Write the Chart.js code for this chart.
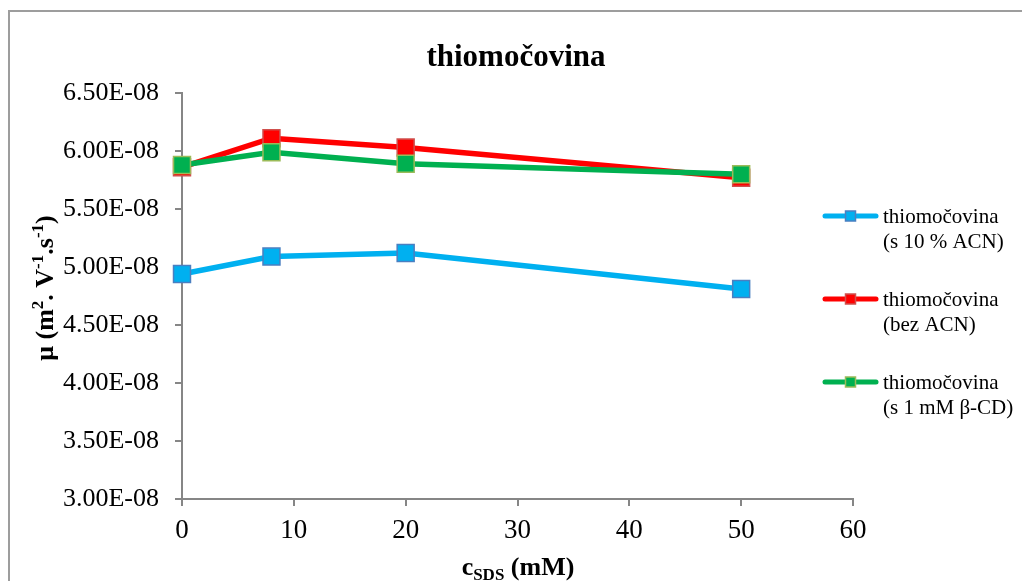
<!DOCTYPE html>
<html>
<head>
<meta charset="utf-8">
<script src="https://cdn.jsdelivr.net/npm/chart.js@4/dist/chart.umd.min.js"></script>
<style>
  html, body { margin: 0; padding: 0; background: #ffffff; overflow: hidden; }
  #wrap { position: relative; width: 1022px; height: 581px; }
  #frame { position: absolute; left: 8px; top: 10px; width: 3000px; height: 3000px;
           border-left: 2px solid #9d9d9d; border-top: 2px solid #9d9d9d; }
  canvas { position: absolute; left: 0; top: 0; }
</style>
</head>
<body>
<div id="wrap">
  <div id="frame"></div>
  <canvas id="c" width="1022" height="581"></canvas>
</div>
<script>
// ---- data ----
const chartTitle = 'thiomočovina';
const cSDS = [0, 8, 20, 50];                              // c_SDS (mM)
const muACN10 = [4.94e-8, 5.09e-8, 5.12e-8, 4.81e-8];     // s 10 % ACN
const muNoACN = [5.86e-8, 6.11e-8, 6.03e-8, 5.77e-8];     // bez ACN
const muBetaCD = [5.88e-8, 5.99e-8, 5.89e-8, 5.80e-8];    // s 1 mM β-CD
const seriesLine1 = ['thiomočovina', 'thiomočovina', 'thiomočovina'];
const seriesLine2 = ['(s 10 % ACN)', '(bez ACN)', '(s 1 mM β-CD)'];
const yTickValues = [3.0e-8, 3.5e-8, 4.0e-8, 4.5e-8, 5.0e-8, 5.5e-8, 6.0e-8, 6.5e-8];
const xTickValues = [0, 10, 20, 30, 40, 50, 60];

const FONT = "'Liberation Serif', 'Times New Roman', serif";
const colors = [
  { line: '#00b0f0', fill: '#00b0f0', border: '#4a7fc1' },
  { line: '#ff0000', fill: '#ff0000', border: '#d0504d' },
  { line: '#00b050', fill: '#00b050', border: '#9bbb59' }
];
const seriesValues = [muACN10, muNoACN, muBetaCD];

function fmtE(v) {
  const s = v.toExponential(2); // e.g. 6.50e-8
  const m = s.match(/^(-?[\d.]+)e([+-])(\d+)$/);
  if (!m) return s;
  const exp = m[3].length < 2 ? '0' + m[3] : m[3];
  return m[1] + 'E' + m[2] + exp;
}

const datasets = seriesValues.map((vals, i) => ({
  label: seriesLine1[i] + ' ' + seriesLine2[i],
  data: cSDS.map((x, k) => ({ x: x, y: vals[k] })),
  borderColor: colors[i].line,
  backgroundColor: colors[i].fill,
  borderWidth: 5.5,
  pointStyle: 'rect',
  pointRadius: 12,
  pointHoverRadius: 12,
  pointBackgroundColor: colors[i].fill,
  pointBorderColor: colors[i].border,
  pointBorderWidth: 1.5,
  tension: 0,
  clip: false,
  order: 2 - i
}));

// draw runs of text with optional super/subscript
function drawRuns(ctx, runs, x, y, align) {
  let total = 0;
  runs.forEach(r => { ctx.font = r.font; r.w = ctx.measureText(r.t).width; total += r.w; });
  let cx = align === 'center' ? x - total / 2 : x;
  runs.forEach(r => {
    ctx.font = r.font;
    ctx.fillText(r.t, cx, y + (r.dy || 0));
    cx += r.w;
  });
}

const decor = {
  id: 'decor',
  afterDraw(chart) {
    const ctx = chart.ctx;
    ctx.save();
    ctx.fillStyle = '#000000';
    ctx.textBaseline = 'alphabetic';
    ctx.textAlign = 'left';
    // title
    drawRuns(ctx, [{ t: chartTitle, font: 'bold 31px ' + FONT }], 516, 66, 'center');
    // x-axis title
    const bx = 'bold 26px ' + FONT, bs = 'bold 17px ' + FONT;
    drawRuns(ctx, [
      { t: 'c', font: bx },
      { t: 'SDS', font: bs, dy: 5 },
      { t: ' (mM)', font: bx }
    ], 518, 575, 'center');
    // y-axis title
    ctx.save();
    ctx.translate(53, 288);
    ctx.rotate(-Math.PI / 2);
    const yb = 'bold 26px ' + FONT, ys = 'bold 17px ' + FONT;
    drawRuns(ctx, [
      { t: 'μ (m', font: yb },
      { t: '2', font: ys, dy: -10 },
      { t: '. V', font: yb },
      { t: '-1', font: ys, dy: -10 },
      { t: '.s', font: yb },
      { t: '-1', font: ys, dy: -10 },
      { t: ')', font: yb }
    ], 0, 0, 'center');
    ctx.restore();
    // legend
    const legY = [216, 299, 382];
    ctx.font = '21px ' + FONT;
    ctx.textBaseline = 'middle';
    legY.forEach((ly, i) => {
      ctx.strokeStyle = colors[i].line;
      ctx.lineWidth = 5;
      ctx.lineCap = 'round';
      ctx.beginPath();
      ctx.moveTo(825, ly);
      ctx.lineTo(876, ly);
      ctx.stroke();
      ctx.fillStyle = colors[i].fill;
      ctx.fillRect(845.5, ly - 5, 10, 10);
      ctx.strokeStyle = colors[i].border;
      ctx.lineWidth = 1.5;
      ctx.strokeRect(845.5, ly - 5, 10, 10);
      ctx.fillStyle = '#000000';
      ctx.fillText(seriesLine1[i], 883, ly + 1);
      ctx.fillText(seriesLine2[i], 883, ly + 26);
    });
    ctx.restore();
  }
};

new Chart(document.getElementById('c'), {
  type: 'line',
  data: { datasets: datasets },
  options: {
    responsive: false,
    animation: false,
    events: [],
    layout: { padding: { left: 0, right: 169, top: 93, bottom: 0 } },
    plugins: { legend: { display: false }, title: { display: false }, tooltip: { enabled: false } },
    scales: {
      x: {
        type: 'linear',
        min: 0, max: 60,
        afterBuildTicks: s => { s.ticks = xTickValues.map(v => ({ value: v })); },
        afterFit: s => { s.height = 82; },
        grid: { display: true, drawOnChartArea: false, drawTicks: true, tickLength: 7, color: '#868686', lineWidth: 2 },
        border: { display: true, color: '#868686', width: 2 },
        ticks: { color: '#000000', padding: 9, maxRotation: 0, font: { family: FONT, size: 27 } }
      },
      y: {
        type: 'linear',
        min: 3.0e-8, max: 6.5e-8,
        afterBuildTicks: s => { s.ticks = yTickValues.map(v => ({ value: v })); },
        afterFit: s => { s.width = 182; },
        grid: { display: true, drawOnChartArea: false, drawTicks: true, tickLength: 7, color: '#868686', lineWidth: 2 },
        border: { display: true, color: '#868686', width: 2 },
        ticks: { color: '#000000', padding: 16, font: { family: FONT, size: 26 }, callback: v => fmtE(v) }
      }
    }
  },
  plugins: [decor]
});
</script>
</body>
</html>
